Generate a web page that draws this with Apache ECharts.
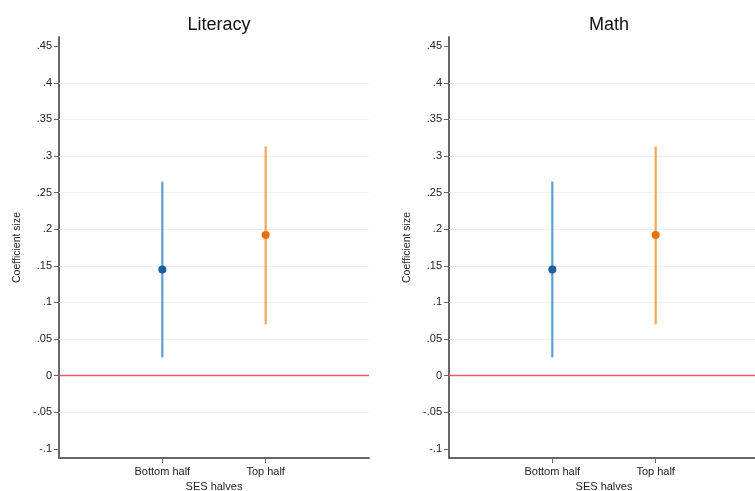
<!DOCTYPE html>
<html>
<head>
<meta charset="utf-8">
<script src="https://cdn.jsdelivr.net/npm/echarts@6/dist/echarts.min.js"></script>
<style>html,body{margin:0;padding:0;background:#fff;}#c{width:755px;height:491px;}</style>
</head>
<body>
<div id="c"></div>
<script>
// ---- data ----
var panelTitles = ['Literacy', 'Math'];
var categories = ['Bottom half', 'Top half'];
var categoryPos = [1, 2];
var literacyPoint = [0.145, 0.192];
var literacyLow = [0.025, 0.070];
var literacyHigh = [0.265, 0.313];
var mathPoint = [0.145, 0.192];
var mathLow = [0.025, 0.070];
var mathHigh = [0.265, 0.313];
var yTickValues = [-0.1, -0.05, 0, 0.05, 0.1, 0.15, 0.2, 0.25, 0.3, 0.35, 0.4, 0.45];
var gridLineValues = [-0.05, 0.05, 0.1, 0.15, 0.2, 0.25, 0.3, 0.35, 0.4];
var zeroLine = 0;

var panels = [
  {point: literacyPoint, low: literacyLow, high: literacyHigh},
  {point: mathPoint, low: mathLow, high: mathHigh}
];
var lineColors = ['#5b9fd1', '#f7a455'];
var dotColors = ['#1a5e9c', '#e6700e'];
var font = 'Liberation Sans, Arial, sans-serif';

function fmtY(v) {
  var r = Math.round(v * 100) / 100;
  if (r === 0) return '0';
  var s = String(r);
  return s.replace('0.', '.');
}

var gridLefts = [59, 449];
var grids = [], xAxes = [], yAxes = [], titles = [], series = [];
for (var p = 0; p < 2; p++) {
  grids.push({left: gridLefts[p], top: 37, width: 310, height: 421, containLabel: false, outerBoundsMode: 'none'});
  titles.push({text: panelTitles[p], left: gridLefts[p] + 155, top: 11, textAlign: 'center',
    textStyle: {fontFamily: font, fontSize: 18, fontWeight: 'normal', color: '#111'}});
  xAxes.push({type: 'value', gridIndex: p, min: 0, max: 3,
    name: 'SES halves', nameLocation: 'middle', nameGap: 23,
    nameTextStyle: {fontFamily: font, fontSize: 11, color: '#222'},
    axisLine: {show: true, onZero: false, lineStyle: {color: '#666', width: 2}},
    axisTick: {show: true, length: 5, customValues: categoryPos, lineStyle: {color: '#666'}},
    axisLabel: {customValues: categoryPos, fontFamily: font, fontSize: 11, color: '#222', margin: 8,
      formatter: function (v) { return categories[categoryPos.indexOf(v)] || ''; }},
    splitLine: {show: false}
  });
  yAxes.push({type: 'value', gridIndex: p, min: -0.1125, max: 0.4625,
    name: 'Coefficient size', nameLocation: 'middle', nameGap: 36,
    nameTextStyle: {fontFamily: font, fontSize: 10.5, color: '#222'},
    axisLine: {show: true, onZero: false, lineStyle: {color: '#666', width: 2}},
    axisTick: {show: true, length: 5, customValues: yTickValues, lineStyle: {color: '#666'}},
    axisLabel: {customValues: yTickValues, fontFamily: font, fontSize: 11, color: '#222', margin: 7,
      formatter: fmtY},
    splitLine: {show: false}
  });
  // gridlines
  series.push({type: 'line', xAxisIndex: p, yAxisIndex: p, data: [], silent: true, z: 0,
    markLine: {silent: true, symbol: 'none', label: {show: false}, animation: false,
      lineStyle: {color: '#f1f1f1', width: 1, type: 'solid'},
      data: gridLineValues.map(function (v) { return {yAxis: v}; })
    }});
  // zero reference line
  series.push({type: 'line', xAxisIndex: p, yAxisIndex: p, data: [], silent: true, z: 1,
    markLine: {silent: true, symbol: 'none', label: {show: false}, animation: false,
      lineStyle: {color: '#ef5a5a', width: 1.3, type: 'solid', opacity: 1},
      data: [{yAxis: zeroLine}]
    }});
  var d = panels[p];
  for (var i = 0; i < categories.length; i++) {
    (function (i, p) {
      series.push({type: 'custom', xAxisIndex: p, yAxisIndex: p, name: categories[i],
        data: [[categoryPos[i], d.low[i], d.high[i]]],
        renderItem: function (params, api) {
          var a = api.coord([api.value(0), api.value(1)]);
          var b = api.coord([api.value(0), api.value(2)]);
          return {type: 'line', shape: {x1: a[0], y1: a[1], x2: b[0], y2: b[1]},
            style: {stroke: lineColors[i], lineWidth: 2.2}};
        }, z: 5});
      series.push({type: 'scatter', xAxisIndex: p, yAxisIndex: p, name: categories[i],
        data: [[categoryPos[i], d.point[i]]], symbolSize: 8,
        itemStyle: {color: dotColors[i], opacity: 1}, z: 6});
    })(i, p);
  }
}

var chart = echarts.init(document.getElementById('c'), null, {renderer: 'canvas'});
chart.setOption({
  animation: false,
  backgroundColor: '#fff',
  title: titles,
  grid: grids,
  xAxis: xAxes,
  yAxis: yAxes,
  series: series
});
</script>
</body>
</html>
